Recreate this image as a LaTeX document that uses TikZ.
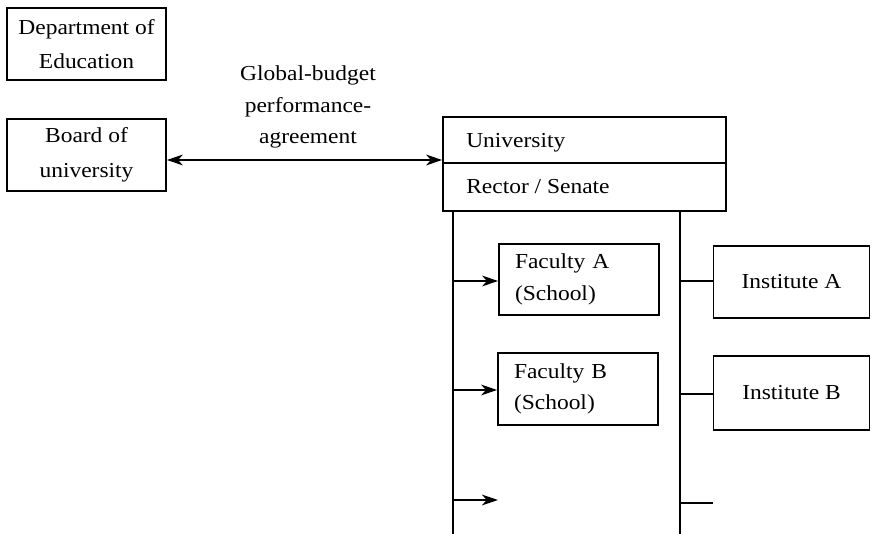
\documentclass[tikz,border=0pt]{standalone}
\usepackage{fontspec}
\setmainfont[FakeStretch=1.1]{Liberation Serif}
\usetikzlibrary{arrows.meta}
\begin{document}
\begin{tikzpicture}[x=0.75pt,y=-0.75pt,
  every node/.style={font=\fontsize{16}{23.5}\selectfont},
  box/.style={draw, line width=1.2pt, rectangle, inner sep=0pt, align=center},
  conn/.style={line width=1.2pt},
  tip/.tip={Stealth[length=12pt,width=8pt,inset=3.5pt]},
  arr/.style={conn, -tip}]
\useasboundingbox (0,0) rectangle (872,534);
% left boxes
\node[box, minimum width=119.25pt, minimum height=54pt, font=\fontsize{16}{25.5}\selectfont] (dept) at (86.5,44) {Department of\\Education};
\node[box, minimum width=119.25pt, minimum height=54pt, font=\fontsize{16}{26}\selectfont] (board) at (86.5,155) {Board of\\university};
% label
\node[align=center, inner sep=0pt] (lbl) at (308,107) {Global-budget\\performance-\\agreement};
% university
\node[box, minimum width=212.25pt, minimum height=70.5pt] (univ) at (584.5,164) {};
\coordinate (divl) at (443,163);
\coordinate (divr) at (726,163);
\draw[conn] (divl) -- (divr);
\node[anchor=west, inner sep=0pt] (univtop) at (466,143) {University};
\node[anchor=west, inner sep=0pt] (univbot) at (466,187) {Rector / Senate};
% double arrow
\coordinate (aw) at (300,160);
\draw[conn, tip-tip] (board.east|-aw) -- (univ.west|-aw);
% vertical buses
\coordinate (lbus) at (453,534);
\coordinate (rbus) at (680,534);
\draw[conn] (univ.south-|lbus) -- (lbus);
\draw[conn] (univ.south-|rbus) -- (rbus);
% faculties
\node[box, text width=96pt, minimum height=53.25pt, inner xsep=12pt, align=left] (facA) at (579,279.5) {Faculty A\\(School)};
\node[box, text width=96pt, minimum height=54pt, inner xsep=12pt, align=left] (facB) at (578,389) {Faculty B\\(School)};
% institutes
\node[box, minimum width=117pt, minimum height=54pt] (instA) at (791.5,282) {Institute A};
\node[box, minimum width=117pt, minimum height=55.5pt] (instB) at (791.5,393) {Institute B};
% connectors
\coordinate (ya) at (0,281);
\coordinate (yb) at (0,390);
\coordinate (yc) at (0,500);
\coordinate (endc) at (498,500);
\draw[arr] (lbus|-ya) -- (facA.west|-ya);
\draw[arr] (lbus|-yb) -- (facB.west|-yb);
\draw[arr] (lbus|-yc) -- (endc);
\coordinate (za) at (0,281);
\coordinate (zb) at (0,394);
\coordinate (zc) at (0,503);
\coordinate (endd) at (713,503);
\draw[conn] (rbus|-za) -- (instA.west|-za);
\draw[conn] (rbus|-zb) -- (instB.west|-zb);
\draw[conn] (rbus|-zc) -- (endd);
\end{tikzpicture}
\end{document}
